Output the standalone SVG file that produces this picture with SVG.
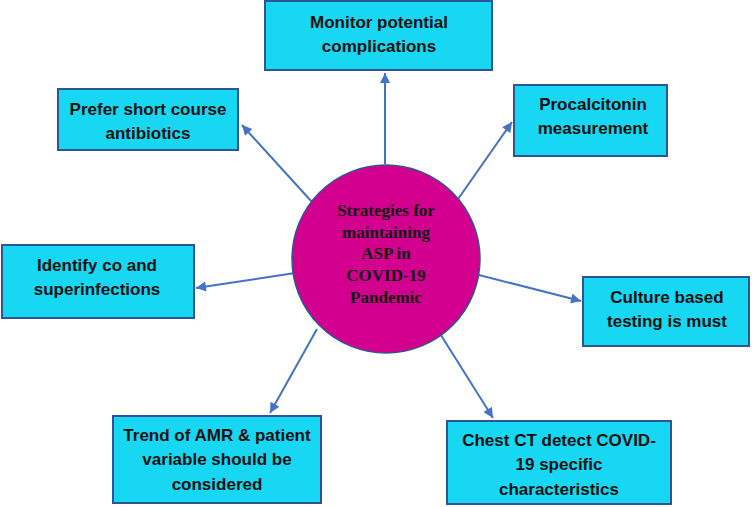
<svg xmlns="http://www.w3.org/2000/svg" width="752" height="507" viewBox="0 0 752 507">
<defs>
<marker id="ah" viewBox="0 0 10 10" refX="10" refY="5" markerWidth="11" markerHeight="10" markerUnits="userSpaceOnUse" orient="auto">
<path d="M0,0 L10,5 L0,10 Z" fill="#4472C4"/>
</marker>
<style>
.box{fill:#17D7F2;stroke:#2F5597;stroke-width:2}
.bt{font-family:"Liberation Sans",Arial,sans-serif;font-weight:bold;font-size:17px;fill:#111;text-anchor:middle}
.ct{font-family:"Liberation Serif","Times New Roman",serif;font-weight:bold;font-size:17px;fill:#111;text-anchor:middle}
.cn{stroke:#4472C4;stroke-width:2;fill:none;marker-end:url(#ah)}
</style>
</defs>
<rect width="752" height="507" fill="#fff"/>
<g id="connectors">
<line class="cn" x1="385" y1="164" x2="385" y2="73"/>
<line class="cn" x1="312" y1="202" x2="242" y2="125"/>
<line class="cn" x1="456" y1="202" x2="512" y2="122"/>
<line class="cn" x1="295" y1="273" x2="196" y2="288"/>
<line class="cn" x1="475" y1="274" x2="581" y2="301"/>
<line class="cn" x1="317" y1="329" x2="270" y2="413"/>
<line class="cn" x1="439" y1="332" x2="493" y2="418"/>
</g>
<g id="center">
<circle cx="386" cy="259" r="94" fill="#D3008F" stroke="#2F5597" stroke-width="1.5"/>
<text class="ct" x="386" y="216">Strategies for</text>
<text class="ct" x="386" y="238">maintaining</text>
<text class="ct" x="386" y="259">ASP in</text>
<text class="ct" x="386" y="281">COVID-19</text>
<text class="ct" x="386" y="303">Pandemic</text>
</g>
<g id="monitor">
<rect class="box" x="265" y="1" width="227" height="69"/>
<text class="bt" x="379" y="28">Monitor potential</text>
<text class="bt" x="379" y="52">complications</text>
</g>
<g id="prefer">
<rect class="box" x="58" y="89" width="180" height="61"/>
<text class="bt" x="148" y="115">Prefer short course</text>
<text class="bt" x="148" y="139">antibiotics</text>
</g>
<g id="procalcitonin">
<rect class="box" x="514" y="85" width="153" height="71"/>
<text class="bt" x="593" y="110">Procalcitonin</text>
<text class="bt" x="593" y="134">measurement</text>
</g>
<g id="identify">
<rect class="box" x="2" y="245" width="192" height="73"/>
<text class="bt" x="97" y="271">Identify co and</text>
<text class="bt" x="97" y="295">superinfections</text>
</g>
<g id="culture">
<rect class="box" x="583" y="277" width="166" height="69"/>
<text class="bt" x="667" y="303">Culture based</text>
<text class="bt" x="667" y="327">testing is must</text>
</g>
<g id="trend">
<rect class="box" x="113" y="416" width="208" height="87"/>
<text class="bt" x="217" y="441">Trend of AMR &amp; patient</text>
<text class="bt" x="217" y="465">variable should be</text>
<text class="bt" x="217" y="490">considered</text>
</g>
<g id="chest">
<rect class="box" x="447" y="421" width="224" height="83"/>
<text class="bt" x="559" y="446">Chest CT detect COVID-</text>
<text class="bt" x="559" y="470">19 specific</text>
<text class="bt" x="559" y="495">characteristics</text>
</g>
</svg>
